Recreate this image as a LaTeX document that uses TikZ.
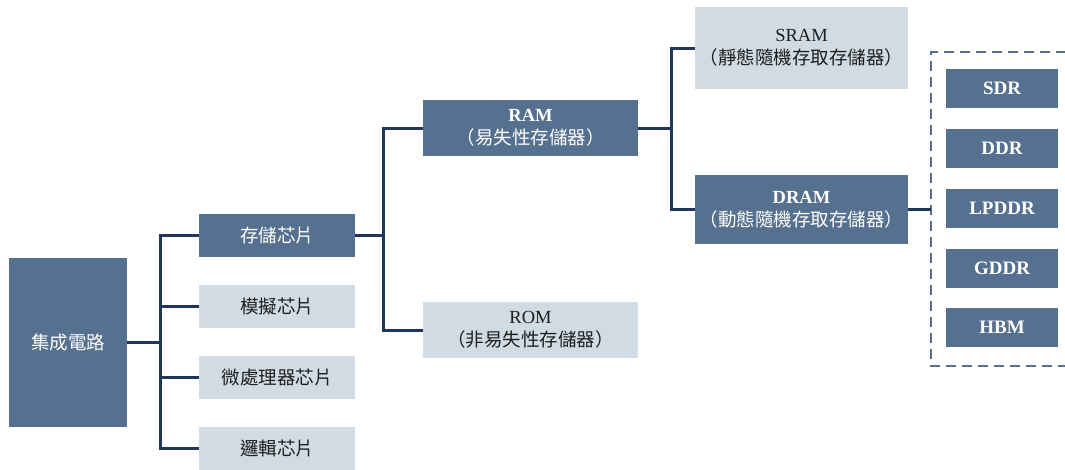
\documentclass[tikz,border=0pt]{standalone}
\usepackage{fontspec}
\setmainfont{Liberation Serif}
\newfontfamily\cjk{Noto Sans CJK TC}
\definecolor{darkbox}{HTML}{56718F}
\definecolor{lightbox}{HTML}{D0DBE3}
\definecolor{linec}{HTML}{22365A}
\definecolor{txtdark}{HTML}{1E1E1E}
\begin{document}
\begin{tikzpicture}[x=1pt,y=-1pt,
  base/.style={inner sep=0pt, align=center, font=\fontsize{18.5}{23}\selectfont},
  dbox/.style={base, fill=darkbox, text=white},
  lbox/.style={base, fill=lightbox, text=txtdark},
  small/.style={dbox, font=\fontsize{19}{22}\selectfont\bfseries, minimum width=112pt, minimum height=39pt},
  conn/.style={draw=linec, line width=3pt},
  dashbox/.style={draw=darkbox, line width=2.6pt, dash pattern=on 10pt off 6pt}]
\useasboundingbox (0,0) rectangle (1065,469);
% level 0
\node[dbox, minimum width=118pt, minimum height=169pt] (ic) at (68,342.5) {\cjk 集成電路};
% level 1
\node[dbox, minimum width=156pt, minimum height=43pt] (mem) at (277,235.5) {\cjk 存儲芯片};
\node[lbox, minimum width=156pt, minimum height=43pt] (ana) at (277,306.5) {\cjk 模擬芯片};
\node[lbox, minimum width=156pt, minimum height=43pt] (cpu) at (277,377.5) {\cjk 微處理器芯片};
\node[lbox, minimum width=156pt, minimum height=43pt] (logic) at (277,448.5) {\cjk 邏輯芯片};
% level 2
\node[dbox, minimum width=215pt, minimum height=56pt] (ram) at (530.5,128) {\textbf{RAM}\\{\cjk （易失性存儲器）}};
\node[lbox, minimum width=215pt, minimum height=56pt] (rom) at (530.5,330) {ROM\\{\cjk （非易失性存儲器）}};
% level 3
\node[lbox, minimum width=213pt, minimum height=82pt] (sram) at (801.5,48) {SRAM\\{\cjk （靜態隨機存取存儲器）}};
\node[dbox, minimum width=213pt, minimum height=69pt] (dram) at (801.5,209.5) {\textbf{DRAM}\\{\cjk （動態隨機存取存儲器）}};
% level 4
\node[small] (sdr) at (1002,88.5) {SDR};
\node[small] (ddr) at (1002,148.5) {DDR};
\node[small] (lpddr) at (1002,208.5) {LPDDR};
\node[small] (gddr) at (1002,268.5) {GDDR};
\node[small] (hbm) at (1002,327.5) {HBM};
% dashed group (right side runs off the picture)
\coordinate (dtl) at (931,52);
\coordinate (dbl) at (931,366);
\draw[dashbox] (1066,52) -- (dtl) -- (dbl) -- (1066,366);
% junctions
\coordinate (t1) at (160,342.5);
\coordinate (t2) at (383,235.5);
\coordinate (t3) at (671,128);
\coordinate (dl) at (931,209.5);
% connectors
\draw[conn] (ic.east) -- (t1);
\draw[conn] (mem.west) -| (t1) |- (logic.west);
\draw[conn] (t1 |- ana.west) -- (ana.west);
\draw[conn] (t1 |- cpu.west) -- (cpu.west);
\draw[conn] (mem.east) -- (t2);
\draw[conn] (ram.west) -| (t2) |- (rom.west);
\draw[conn] (ram.east) -- (t3);
\draw[conn] (sram.west) -| (t3) |- (dram.west);
\draw[conn] (dram.east) -- (dl);
\end{tikzpicture}
\end{document}
